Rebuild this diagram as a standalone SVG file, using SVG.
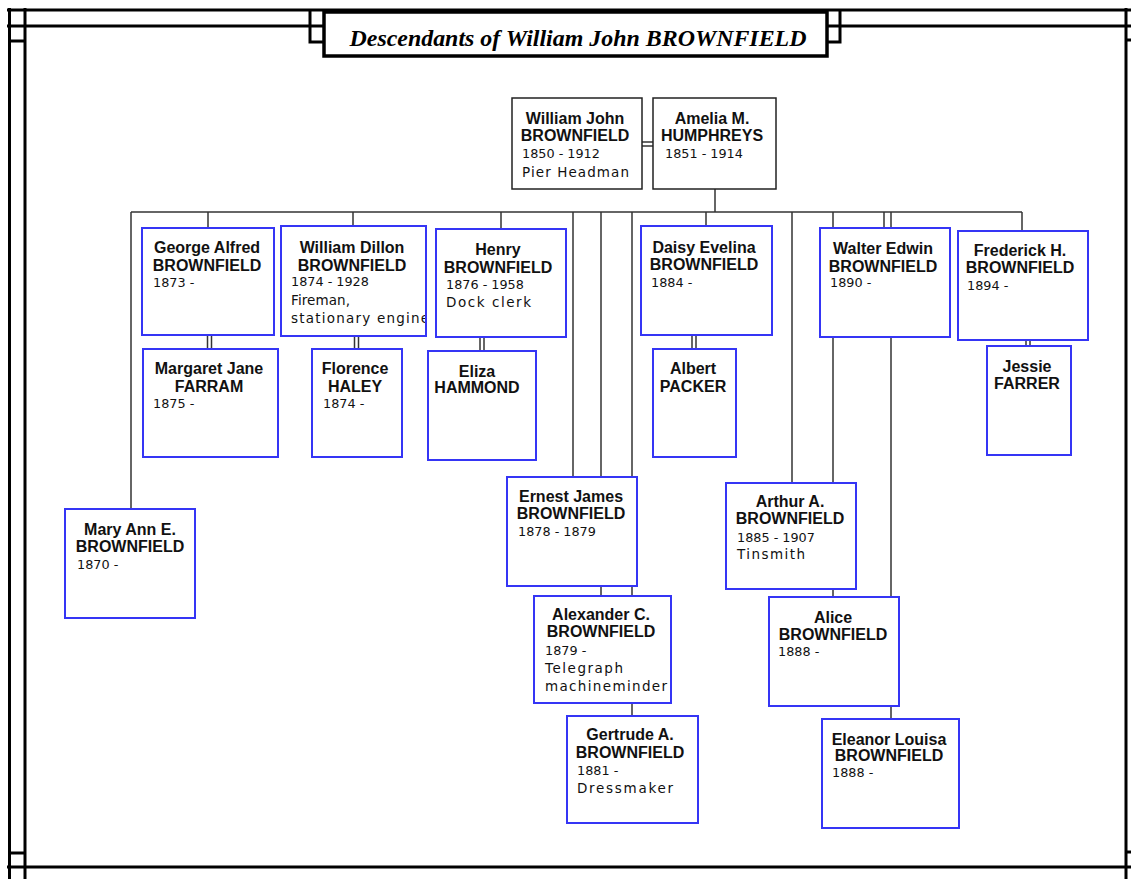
<svg xmlns="http://www.w3.org/2000/svg" width="1131" height="879" viewBox="0 0 1131 879">
<style>
.frame{stroke:#000;stroke-width:3;fill:none}
.conn{stroke:#333;stroke-width:1.5;fill:none}
.root{fill:#fff;stroke:#222;stroke-width:1.5}
.box{fill:#fff;stroke:#3535f5;stroke-width:2}
.nm{font-family:"Liberation Sans",Arial,sans-serif;font-weight:bold;font-size:16px;text-anchor:middle;fill:#111}
.dt{font-family:"DejaVu Sans",Verdana,sans-serif;font-size:12.8px;fill:#111}
.oc{font-family:"DejaVu Sans",Verdana,sans-serif;font-size:13.5px;fill:#111}
.title{font-family:"Liberation Serif","Times New Roman",serif;font-style:italic;font-weight:bold;font-size:24px;text-anchor:middle;fill:#000}
</style>
<defs>
<clipPath id="clipWD"><rect x="282" y="227" width="143" height="108"/></clipPath>
</defs>
<rect x="0" y="0" width="1131" height="879" fill="#fff"/>
<g id="frame" class="frame">
<line x1="7" y1="10" x2="1131" y2="10"/>
<line x1="7" y1="26" x2="324" y2="26"/>
<line x1="827" y1="26" x2="1131" y2="26"/>
<line x1="7" y1="867" x2="1131" y2="867"/>
<line x1="9.5" y1="8" x2="9.5" y2="879"/>
<line x1="25" y1="8" x2="25" y2="879"/>
<line x1="1126" y1="8" x2="1126" y2="879"/>
<line x1="9.5" y1="41" x2="25" y2="41"/>
<line x1="9.5" y1="853" x2="25" y2="853"/>
<line x1="1126" y1="40" x2="1131" y2="40"/>
<line x1="1126" y1="852" x2="1131" y2="852"/>
<path d="M310 9V42H324"/>
<path d="M840 9V42H827"/>
</g>
<g id="title">
<rect x="324" y="12" width="503" height="44" fill="#fff" stroke="#000" stroke-width="3.5"/>
<text class="title" x="578" y="46" textLength="457" lengthAdjust="spacingAndGlyphs">Descendants of William John BROWNFIELD</text>
</g>
<g id="connectors" class="conn">
<line x1="642" y1="142" x2="653" y2="142"/>
<line x1="642" y1="146" x2="653" y2="146"/>
<line x1="715" y1="189" x2="715" y2="212"/>
<line x1="131" y1="212" x2="1022" y2="212"/>
<line x1="131" y1="212" x2="131" y2="509"/>
<line x1="208" y1="212" x2="208" y2="228"/>
<line x1="353" y1="212" x2="353" y2="226"/>
<line x1="501" y1="212" x2="501" y2="229"/>
<line x1="573" y1="212" x2="573" y2="477"/>
<line x1="601" y1="212" x2="601" y2="596"/>
<line x1="632" y1="212" x2="632" y2="716"/>
<line x1="706" y1="212" x2="706" y2="226"/>
<line x1="792" y1="212" x2="792" y2="483"/>
<line x1="833" y1="212" x2="833" y2="597"/>
<line x1="884" y1="212" x2="884" y2="228"/>
<line x1="891" y1="212" x2="891" y2="719"/>
<line x1="1022" y1="212" x2="1022" y2="231"/>
<line x1="207.5" y1="335" x2="207.5" y2="349"/>
<line x1="211.5" y1="335" x2="211.5" y2="349"/>
<line x1="354.5" y1="336" x2="354.5" y2="349"/>
<line x1="358.5" y1="336" x2="358.5" y2="349"/>
<line x1="480" y1="337" x2="480" y2="351"/>
<line x1="484" y1="337" x2="484" y2="351"/>
<line x1="692" y1="335" x2="692" y2="349"/>
<line x1="696" y1="335" x2="696" y2="349"/>
<line x1="1026" y1="340" x2="1026" y2="346"/>
<line x1="1030" y1="340" x2="1030" y2="346"/>
</g>
<g id="william-john">
<rect class="root" x="512" y="98" width="130" height="91"/>
<text class="nm" x="575" y="124">William John</text>
<text class="nm" x="575" y="141">BROWNFIELD</text>
<text class="dt" x="522" y="158">1850 - 1912</text>
<text class="oc" x="522" y="177" textLength="107">Pier Headman</text>
</g>
<g id="amelia">
<rect class="root" x="653" y="98" width="123" height="91"/>
<text class="nm" x="712" y="124">Amelia M.</text>
<text class="nm" x="712" y="141">HUMPHREYS</text>
<text class="dt" x="665" y="158">1851 - 1914</text>
</g>
<g id="mary-ann">
<rect class="box" x="65" y="509" width="130" height="109"/>
<text class="nm" x="130" y="535">Mary Ann E.</text>
<text class="nm" x="130" y="552">BROWNFIELD</text>
<text class="dt" x="77" y="569">1870 -</text>
</g>
<g id="george-alfred">
<rect class="box" x="142" y="228" width="132" height="107"/>
<text class="nm" x="207" y="253">George Alfred</text>
<text class="nm" x="207" y="271">BROWNFIELD</text>
<text class="dt" x="153" y="287">1873 -</text>
</g>
<g id="margaret-jane">
<rect class="box" x="143" y="349" width="135" height="108"/>
<text class="nm" x="209" y="374">Margaret Jane</text>
<text class="nm" x="209" y="392">FARRAM</text>
<text class="dt" x="153" y="408">1875 -</text>
</g>
<g id="william-dillon">
<rect class="box" x="281" y="226" width="145" height="110"/>
<text class="nm" x="352" y="253">William Dillon</text>
<text class="nm" x="352" y="271">BROWNFIELD</text>
<text class="dt" x="291" y="286">1874 - 1928</text>
<g clip-path="url(#clipWD)">
<text class="oc" x="291" y="305" textLength="59">Fireman,</text>
<text class="oc" x="291" y="323" textLength="138">stationary engine</text>
</g>
</g>
<g id="florence">
<rect class="box" x="312" y="349" width="90" height="108"/>
<text class="nm" x="355" y="374">Florence</text>
<text class="nm" x="355" y="392">HALEY</text>
<text class="dt" x="323" y="408">1874 -</text>
</g>
<g id="henry">
<rect class="box" x="436" y="229" width="130" height="108"/>
<text class="nm" x="498" y="255">Henry</text>
<text class="nm" x="498" y="273">BROWNFIELD</text>
<text class="dt" x="446" y="289">1876 - 1958</text>
<text class="oc" x="446" y="307" textLength="85">Dock clerk</text>
</g>
<g id="eliza">
<rect class="box" x="428" y="351" width="108" height="109"/>
<text class="nm" x="477" y="377">Eliza</text>
<text class="nm" x="477" y="393">HAMMOND</text>
</g>
<g id="ernest-james">
<rect class="box" x="507" y="477" width="130" height="109"/>
<text class="nm" x="571" y="502">Ernest James</text>
<text class="nm" x="571" y="519">BROWNFIELD</text>
<text class="dt" x="518" y="536">1878 - 1879</text>
</g>
<g id="alexander">
<rect class="box" x="534" y="596" width="137" height="107"/>
<text class="nm" x="601" y="620">Alexander C.</text>
<text class="nm" x="601" y="637">BROWNFIELD</text>
<text class="dt" x="545" y="655">1879 -</text>
<text class="oc" x="545" y="673" textLength="78">Telegraph</text>
<text class="oc" x="545" y="691" textLength="122">machineminder</text>
</g>
<g id="gertrude">
<rect class="box" x="567" y="716" width="131" height="107"/>
<text class="nm" x="630" y="740">Gertrude A.</text>
<text class="nm" x="630" y="758">BROWNFIELD</text>
<text class="dt" x="577" y="775">1881 -</text>
<text class="oc" x="577" y="793" textLength="96">Dressmaker</text>
</g>
<g id="daisy">
<rect class="box" x="641" y="226" width="131" height="109"/>
<text class="nm" x="704" y="253">Daisy Evelina</text>
<text class="nm" x="704" y="270">BROWNFIELD</text>
<text class="dt" x="651" y="287">1884 -</text>
</g>
<g id="albert">
<rect class="box" x="653" y="349" width="83" height="108"/>
<text class="nm" x="693" y="374">Albert</text>
<text class="nm" x="693" y="392">PACKER</text>
</g>
<g id="arthur">
<rect class="box" x="726" y="483" width="130" height="106"/>
<text class="nm" x="790" y="507">Arthur A.</text>
<text class="nm" x="790" y="524">BROWNFIELD</text>
<text class="dt" x="737" y="542">1885 - 1907</text>
<text class="oc" x="737" y="559" textLength="68">Tinsmith</text>
</g>
<g id="alice">
<rect class="box" x="769" y="597" width="130" height="109"/>
<text class="nm" x="833" y="623">Alice</text>
<text class="nm" x="833" y="640">BROWNFIELD</text>
<text class="dt" x="778" y="656">1888 -</text>
</g>
<g id="eleanor">
<rect class="box" x="822" y="719" width="137" height="109"/>
<text class="nm" x="889" y="745">Eleanor Louisa</text>
<text class="nm" x="889" y="761">BROWNFIELD</text>
<text class="dt" x="832" y="777">1888 -</text>
</g>
<g id="walter">
<rect class="box" x="820" y="228" width="130" height="109"/>
<text class="nm" x="883" y="254">Walter Edwin</text>
<text class="nm" x="883" y="272">BROWNFIELD</text>
<text class="dt" x="830" y="287">1890 -</text>
</g>
<g id="frederick">
<rect class="box" x="958" y="231" width="130" height="109"/>
<text class="nm" x="1020" y="256">Frederick H.</text>
<text class="nm" x="1020" y="273">BROWNFIELD</text>
<text class="dt" x="967" y="290">1894 -</text>
</g>
<g id="jessie">
<rect class="box" x="987" y="346" width="84" height="109"/>
<text class="nm" x="1027" y="372">Jessie</text>
<text class="nm" x="1027" y="389">FARRER</text>
</g>
</svg>
